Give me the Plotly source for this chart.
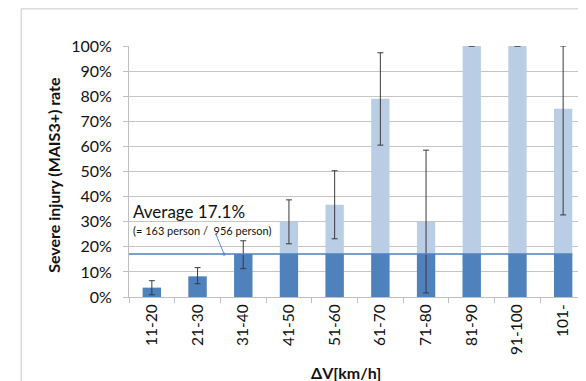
import plotly.graph_objects as go

categories = ["11-20", "21-30", "31-40", "41-50", "51-60", "61-70", "71-80", "81-90", "91-100", "101-"]
rate = [0.037, 0.082, 0.171, 0.30, 0.368, 0.79, 0.30, 1.00, 1.00, 0.75]
ci_low = [0.009, 0.053, 0.113, 0.212, 0.232, 0.605, 0.016, 1.00, 1.00, 0.327]
ci_high = [0.065, 0.117, 0.224, 0.387, 0.503, 0.973, 0.585, 1.00, 1.00, 1.00]
average = 0.171
avg_text = "Average 17.1%"
avg_sub = "(= 163 person /  956 person)"

dark_part = [min(v, average) for v in rate]
err_plus = [h - v for h, v in zip(ci_high, rate)]
err_minus = [v - l for v, l in zip(rate, ci_low)]

FONT = "Lato"
DARK = "#4F81BD"
LIGHT = "#B9CDE5"

fig = go.Figure()
fig.add_trace(go.Bar(x=categories, y=rate, marker=dict(color=LIGHT, line=dict(width=0)),
                     width=0.4, showlegend=False, hoverinfo="skip"))
fig.add_trace(go.Bar(x=categories, y=dark_part, marker=dict(color=DARK, line=dict(width=0)),
                     width=0.4, showlegend=False, hoverinfo="skip"))
fig.add_trace(go.Scatter(x=categories, y=rate, mode="markers",
                         marker=dict(size=1, opacity=0),
                         error_y=dict(type="data", symmetric=False, array=err_plus,
                                      arrayminus=err_minus, color="#3a3a3a",
                                      thickness=1, width=3),
                         showlegend=False, hoverinfo="skip"))

fig.add_shape(type="line", xref="x", yref="y", x0=-0.5, x1=9.2, y0=average, y1=average,
              line=dict(color=DARK, width=1.5), layer="above")

# outer border
fig.add_shape(type="rect", xref="paper", yref="paper", x0=-0.236, x1=1.05, y0=-0.5, y1=1.148,
              line=dict(color="#C8C8C8", width=1), fillcolor="rgba(0,0,0,0)")

fig.add_annotation(x=-0.46, y=0.339, xref="x", yref="y", text=avg_text, showarrow=False,
                   xanchor="left", yanchor="middle", font=dict(family=FONT, size=17, color="#111"))
fig.add_annotation(x=-0.46, y=0.263, xref="x", yref="y", text=avg_sub, showarrow=False,
                   xanchor="left", yanchor="middle", font=dict(family=FONT, size=11, color="#111"))
fig.add_annotation(x=1.58, y=average, xref="x", yref="y", text="", showarrow=True,
                   ax=-9, ay=-22, arrowhead=6, arrowsize=0.8, arrowwidth=1,
                   arrowcolor="#5B8BD0", standoff=0)

fig.add_annotation(x=-0.164, y=0.487, xref="paper", yref="paper",
                   text="<b>Severe injury (MAIS3+) rate</b>", textangle=-90, showarrow=False,
                   xanchor="center", yanchor="middle", font=dict(family=FONT, size=16, color="#111"))
fig.add_annotation(x=0.475, y=-0.299, xref="paper", yref="paper",
                   text="<b>ΔV[km/h]</b>", showarrow=False,
                   xanchor="center", yanchor="middle", font=dict(family=FONT, size=16, color="#111"))

fig.update_layout(
    width=586, height=373,
    margin=dict(l=121, r=8, t=38, b=84),
    barmode="overlay",
    paper_bgcolor="white", plot_bgcolor="white",
    font=dict(family=FONT, size=16, color="#111"),
)
fig.update_xaxes(type="category", tickangle=-90, tickson="boundaries", ticks="outside",
                 ticklen=5, tickcolor="#BFBFBF", showline=True, linecolor="#BFBFBF",
                 showgrid=False, tickfont=dict(family=FONT, size=15.5), range=[-0.5, 9.5])
fig.update_yaxes(range=[0, 1], dtick=0.1, tickformat=".0%", showgrid=True,
                 gridcolor="#C4C4C4", gridwidth=1, showline=True, linecolor="#BFBFBF",
                 ticks="outside", ticklen=5, tickcolor="#BFBFBF", zeroline=False,
                 tickfont=dict(family=FONT, size=16), ticklabelstandoff=8)

fig.write_html("out.html")
